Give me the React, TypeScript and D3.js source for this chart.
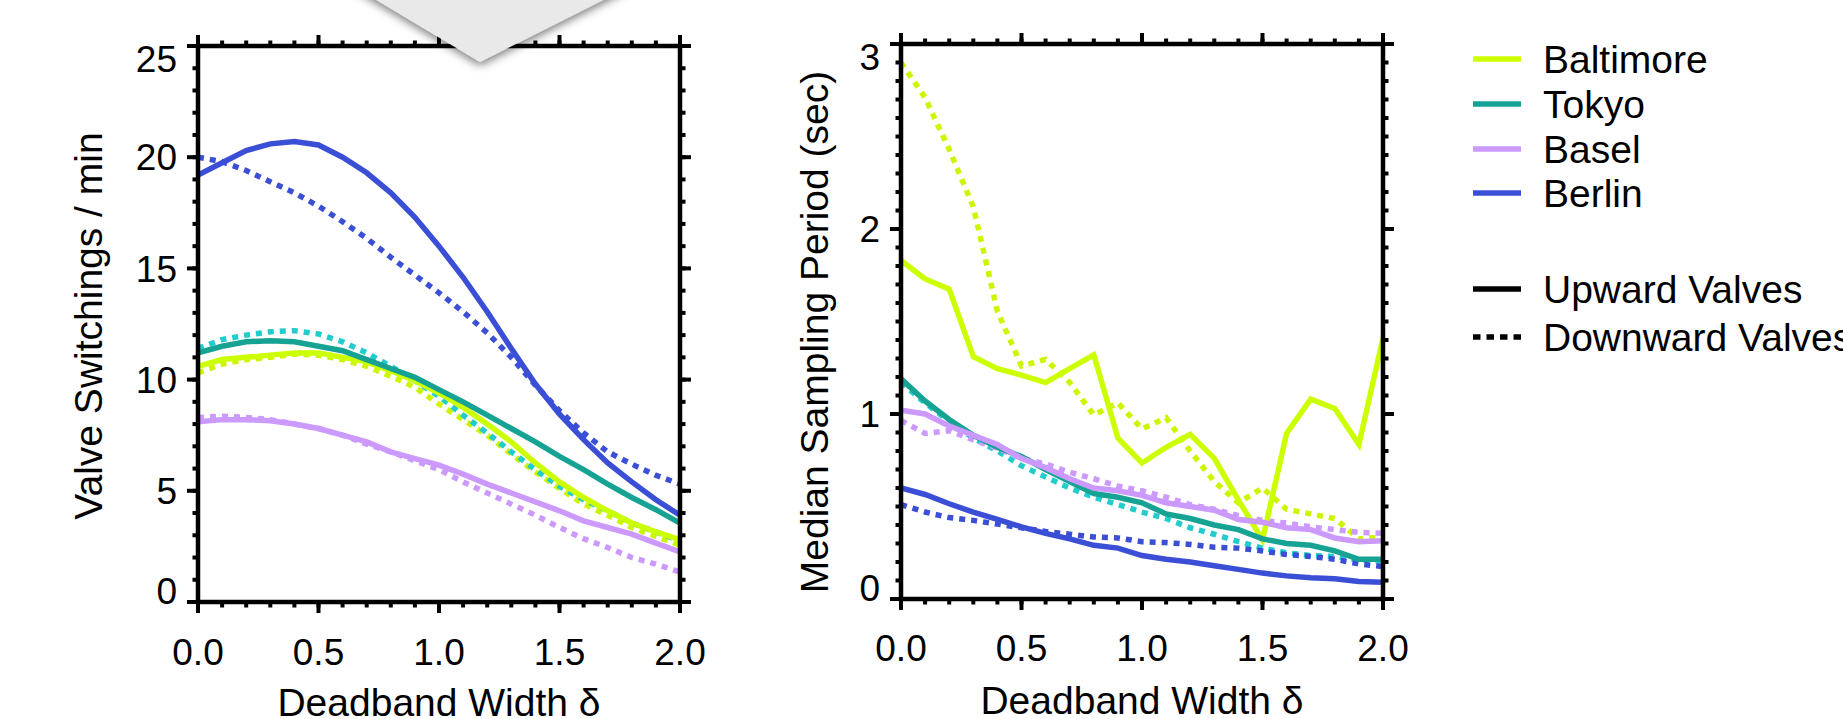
import React from "react";
import * as d3 from "d3";

// deadband widths (x axis), same grid for both panels
const deltas = [0, 0.1, 0.2, 0.3, 0.4, 0.5, 0.6, 0.7, 0.8, 0.9, 1.0, 1.1, 1.2, 1.3, 1.4, 1.5, 1.6, 1.7, 1.8, 1.9, 2.0];

const cities = ["Baltimore", "Tokyo", "Basel", "Berlin"];

// valve switchings / min
const baltimoreUpSwitch = [10.6, 10.9, 11.0, 11.1, 11.2, 11.2, 11.0, 10.8, 10.4, 9.95, 9.4, 8.75, 8.0, 7.2, 6.25, 5.4, 4.7, 4.1, 3.55, 3.15, 2.8];
const baltimoreDownSwitch = [10.3, 10.7, 10.9, 11.0, 11.15, 11.1, 10.9, 10.6, 10.15, 9.65, 8.9, 8.2, 7.5, 6.65, 5.85, 5.1, 4.4, 3.9, 3.35, 2.95, 2.55];
const tokyoUpSwitch = [11.2, 11.5, 11.7, 11.75, 11.7, 11.5, 11.3, 10.9, 10.5, 10.1, 9.55, 9.0, 8.4, 7.8, 7.2, 6.55, 5.95, 5.3, 4.7, 4.15, 3.55];
const tokyoDownSwitch = [11.4, 11.8, 12.0, 12.15, 12.2, 12.05, 11.7, 11.2, 10.6, 9.95, 9.25, 8.4, 7.6, 6.75, 5.95, 5.2, 4.6, 4.1, 3.55, 3.15, 2.75];
const baselUpSwitch = [8.1, 8.2, 8.2, 8.15, 8.0, 7.8, 7.5, 7.2, 6.75, 6.45, 6.15, 5.75, 5.3, 4.9, 4.5, 4.1, 3.65, 3.35, 3.05, 2.65, 2.25];
const baselDownSwitch = [8.3, 8.35, 8.3, 8.2, 8.0, 7.8, 7.5, 7.1, 6.75, 6.35, 5.95, 5.4, 4.9, 4.4, 3.9, 3.35, 2.85, 2.45, 2.0, 1.7, 1.35];
const berlinUpSwitch = [19.2, 19.75, 20.3, 20.6, 20.7, 20.55, 20.0, 19.3, 18.4, 17.3, 16.0, 14.6, 13.05, 11.4, 9.8, 8.45, 7.3, 6.25, 5.4, 4.6, 3.9];
const berlinDownSwitch = [20.0, 19.8, 19.4, 18.9, 18.4, 17.8, 17.1, 16.35, 15.5, 14.7, 13.9, 13.05, 12.1, 11.0, 9.75, 8.6, 7.6, 6.75, 6.2, 5.7, 5.3];

// median sampling period (sec)
const baltimoreUpPeriod = [1.83, 1.73, 1.675, 1.31, 1.245, 1.21, 1.17, 1.245, 1.32, 0.87, 0.735, 0.82, 0.89, 0.76, 0.535, 0.32, 0.895, 1.08, 1.03, 0.835, 1.41];
const baltimoreDownPeriod = [2.9, 2.71, 2.43, 2.12, 1.555, 1.26, 1.295, 1.17, 0.995, 1.06, 0.92, 0.98, 0.8, 0.635, 0.52, 0.6, 0.485, 0.46, 0.435, 0.325, 0.335];
const tokyoUpPeriod = [1.19, 1.07, 0.97, 0.885, 0.82, 0.77, 0.7, 0.635, 0.57, 0.55, 0.52, 0.46, 0.435, 0.4, 0.375, 0.325, 0.3, 0.29, 0.26, 0.215, 0.215];
const tokyoDownPeriod = [1.17, 1.06, 0.96, 0.87, 0.8, 0.72, 0.66, 0.6, 0.55, 0.51, 0.47, 0.435, 0.385, 0.35, 0.31, 0.275, 0.25, 0.235, 0.23, 0.21, 0.205];
const baselUpPeriod = [1.02, 1.0, 0.935, 0.885, 0.835, 0.76, 0.71, 0.65, 0.6, 0.585, 0.56, 0.52, 0.5, 0.48, 0.43, 0.415, 0.385, 0.375, 0.33, 0.31, 0.315];
const baselDownPeriod = [0.965, 0.895, 0.91, 0.86, 0.815, 0.76, 0.73, 0.685, 0.65, 0.61, 0.585, 0.55, 0.51, 0.485, 0.45, 0.425, 0.41, 0.39, 0.375, 0.36, 0.355];
const berlinUpPeriod = [0.6, 0.565, 0.515, 0.47, 0.43, 0.39, 0.355, 0.325, 0.29, 0.275, 0.235, 0.215, 0.2, 0.18, 0.16, 0.14, 0.125, 0.115, 0.11, 0.095, 0.09];
const berlinDownPeriod = [0.51, 0.47, 0.44, 0.425, 0.405, 0.385, 0.365, 0.35, 0.335, 0.33, 0.31, 0.305, 0.295, 0.28, 0.275, 0.26, 0.24, 0.23, 0.215, 0.19, 0.175];

const xTicks = [0, 0.5, 1.0, 1.5, 2.0];
const switchTicks = [0, 5, 10, 15, 20, 25];
const periodTicks = [0, 1, 2, 3];

const upColors = { Baltimore: "#ccff00", Tokyo: "#17a394", Basel: "#cc99ff", Berlin: "#3b4fd6" };
const downColors = { Baltimore: "#cdf500", Tokyo: "#22cccc", Basel: "#cc99ff", Berlin: "#3b4fd6" };

const FONT = "'Liberation Sans', Arial, Helvetica, sans-serif";
const DOTS = "6 6";

type Series = { name: string; up: number[]; down: number[] };

const switchSeries: Series[] = [
  { name: "Baltimore", up: baltimoreUpSwitch, down: baltimoreDownSwitch },
  { name: "Tokyo", up: tokyoUpSwitch, down: tokyoDownSwitch },
  { name: "Basel", up: baselUpSwitch, down: baselDownSwitch },
  { name: "Berlin", up: berlinUpSwitch, down: berlinDownSwitch },
];

const periodSeries: Series[] = [
  { name: "Baltimore", up: baltimoreUpPeriod, down: baltimoreDownPeriod },
  { name: "Tokyo", up: tokyoUpPeriod, down: tokyoDownPeriod },
  { name: "Basel", up: baselUpPeriod, down: baselDownPeriod },
  { name: "Berlin", up: berlinUpPeriod, down: berlinDownPeriod },
];

function Panel(props: any) {
  const { id, left, right, top, bottom, yMax, yTicks, yMinor, series, yTitle, yTitleX, yTitleY, xTitleY, xLabelY } = props;

  const x = d3.scaleLinear().domain([0, 2]).range([left, right]);
  const y = d3.scaleLinear().domain([0, yMax]).range([bottom, top]);

  const line = (vals: number[]) =>
    d3.line<number>()
      .x((d, i) => x(deltas[i]))
      .y((d) => y(d))(vals) as string;

  const xMinor = d3.range(0, 21).map((i) => i / 10);
  const yMinorTicks = d3.range(0, Math.round(yMax / yMinor) + 1).map((i) => i * yMinor);
  const fmt = d3.format(".1f");
  const tickFs = 37;
  const sw = 4.5;

  return (
    <g>
      <defs>
        <clipPath id={"clip" + id}>
          <rect x={left} y={top} width={right - left} height={bottom - top} />
        </clipPath>
      </defs>

      <g clipPath={`url(#clip${id})`} fill="none" strokeWidth={5.5}>
        {series.map((s: Series) => (
          <path key={s.name + "d"} d={line(s.down)} stroke={(downColors as any)[s.name]} strokeDasharray={DOTS} />
        ))}
        {series.map((s: Series) => (
          <path key={s.name + "u"} d={line(s.up)} stroke={(upColors as any)[s.name]} />
        ))}
      </g>

      {/* frame */}
      <rect x={left} y={top} width={right - left} height={bottom - top} fill="none" stroke="#000" strokeWidth={sw} />

      {/* ticks on all four sides, pointing outward */}
      <g stroke="#000" strokeWidth={4}>
        {xMinor.map((t) => (
          <g key={"xm" + t}>
            <line x1={x(t)} x2={x(t)} y1={bottom} y2={bottom + 5.5} />
            <line x1={x(t)} x2={x(t)} y1={top} y2={top - 5.5} />
          </g>
        ))}
        {yMinorTicks.map((t) => (
          <g key={"ym" + t}>
            <line x1={left} x2={left - 5.5} y1={y(t)} y2={y(t)} />
            <line x1={right} x2={right + 5.5} y1={y(t)} y2={y(t)} />
          </g>
        ))}
        {xTicks.map((t) => (
          <g key={"xM" + t}>
            <line x1={x(t)} x2={x(t)} y1={bottom} y2={bottom + 11} />
            <line x1={x(t)} x2={x(t)} y1={top} y2={top - 11} />
          </g>
        ))}
        {yTicks.map((t: number) => (
          <g key={"yM" + t}>
            <line x1={left} x2={left - 11} y1={y(t)} y2={y(t)} />
            <line x1={right} x2={right + 11} y1={y(t)} y2={y(t)} />
          </g>
        ))}
      </g>

      {/* tick labels */}
      <g fontFamily={FONT} fontSize={tickFs} fill="#000">
        {xTicks.map((t) => (
          <text key={"xl" + t} x={x(t)} y={xLabelY} textAnchor="middle">{fmt(t)}</text>
        ))}
        {yTicks.map((t: number, i: number) => {
          let cy = y(t);
          if (i === 0) cy -= 11;
          if (i === yTicks.length - 1) cy += 13;
          return (
            <text key={"yl" + t} x={left - 21} y={cy + 0.358 * tickFs} textAnchor="end">{t}</text>
          );
        })}
      </g>

      {/* axis titles */}
      <text x={(left + right) / 2} y={xTitleY} textAnchor="middle" fontFamily={FONT} fontSize={39}>
        Deadband Width δ
      </text>
      <text transform={`translate(${yTitleX},${yTitleY}) rotate(-90)`} textAnchor="middle" fontFamily={FONT} fontSize={39}>
        {yTitle}
      </text>
    </g>
  );
}

function Legend() {
  const rowY = [59, 104, 149, 193];
  const styleY = [289, 337];
  const lx0 = 1473, lx1 = 1521, tx = 1543;
  return (
    <g fontFamily={FONT} fontSize={39}>
      {cities.map((c, i) => (
        <g key={c}>
          <line x1={lx0} x2={lx1} y1={rowY[i]} y2={rowY[i]} stroke={(upColors as any)[c]} strokeWidth={5.5} />
          <text x={tx} y={rowY[i] + 14}>{c}</text>
        </g>
      ))}
      <line x1={lx0} x2={lx1} y1={styleY[0]} y2={styleY[0]} stroke="#000" strokeWidth={5.5} />
      <text x={tx} y={styleY[0] + 14}>Upward Valves</text>
      <line x1={lx0} x2={lx1} y1={styleY[1]} y2={styleY[1]} stroke="#000" strokeWidth={5.5} strokeDasharray="7.5 6" />
      <text x={tx} y={styleY[1] + 14}>Downward Valves</text>
    </g>
  );
}

export default function App() {
  return (
    <svg width={1843} height={719} style={{ position: "absolute", left: 0, top: 0, background: "#fff" }}>
      <defs>
        <filter id="popShadow" x="-20%" y="-50%" width="140%" height="200%">
          <feDropShadow dx="0" dy="3" stdDeviation="5" floodColor="#000" floodOpacity="0.55" />
        </filter>
      </defs>
      <rect x={0} y={0} width={1843} height={719} fill="#fff" />
      <Panel
        id="sw"
        left={198} right={680} top={46} bottom={602}
        yMax={25} yTicks={switchTicks} yMinor={1}
        series={switchSeries}
        yTitle="Valve Switchings / min"
        yTitleX={102} yTitleY={326}
        xLabelY={665} xTitleY={716}
      />
      <Panel
        id="sp"
        left={901} right={1383} top={44} bottom={599}
        yMax={3} yTicks={periodTicks} yMinor={0.1}
        series={periodSeries}
        yTitle="Median Sampling Period (sec)"
        yTitleX={828} yTitleY={332}
        xLabelY={661} xTitleY={714}
      />
      <Legend />
      {/* grey pop-over arrow covering the top of the left panel */}
      <polygon points="343,-20 480,62 643,-20" fill="#e9e9e9" filter="url(#popShadow)" />
    </svg>
  );
}
